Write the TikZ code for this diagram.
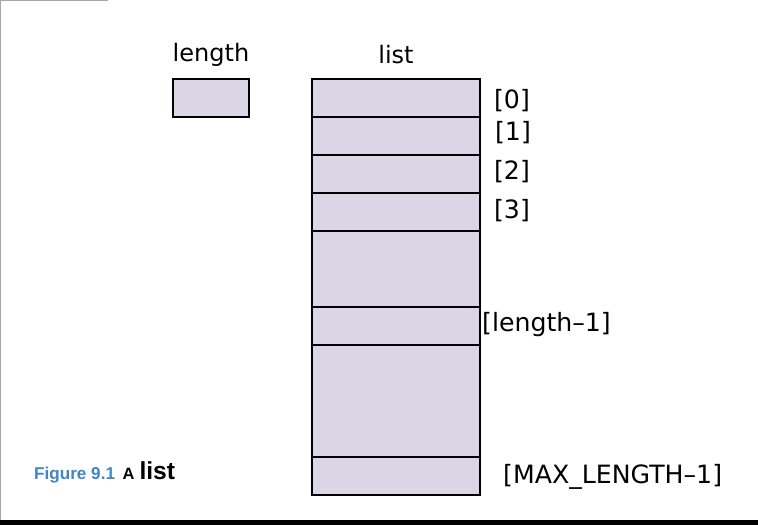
\documentclass[tikz,border=0pt]{standalone}
\usepackage{fontspec}
\setmainfont{Liberation Sans}
\newfontfamily\handfont{DejaVu Sans}
\usepackage{tikz}
\usetikzlibrary{positioning}
\definecolor{cellfill}{RGB}{218,214,229}
\definecolor{capblue}{RGB}{66,133,196}

\begin{document}
\begin{tikzpicture}[x=0.03cm, y=-0.03cm,
            cellnode/.style={rectangle, draw=black, fill=cellfill, line width=2.2pt, outer sep=0pt, minimum width=5.04cm, minimum height=1.14cm, inner sep=0pt},
            bignode/.style={cellnode, minimum height=2.28cm},
            hugenode/.style={cellnode, minimum height=3.36cm},
            idxnode/.style={font=\handfont\fontsize{21.5}{26}\selectfont, inner sep=0pt},
            headnode/.style={font=\handfont\fontsize{20.5}{26}\selectfont, inner sep=0pt},
        ]
        \useasboundingbox (0,0) rectangle (758,525);
        \fill[white] (0,0) rectangle (758,525);
        \fill[black!35] (0,0) rectangle (1.2,520);
        \fill[black!35] (0,0) rectangle (108,1);
        \fill[black] (0,520) rectangle (758,525);

        % headings
        \node[headnode] (lenhead) at (211,55) {length};
        \node[headnode] (listhead) at (396,55) {list};

        % the length variable
        \node[cellnode, minimum width=2.28cm, anchor=north west] (lenbox) at (173,79) {};

        % the list cells
        \node[cellnode, anchor=north west] (cell0) at (312,79) {};
        \node[cellnode] (cell1) [below=0pt of cell0] {};
        \node[cellnode] (cell2) [below=0pt of cell1] {};
        \node[cellnode] (cell3) [below=0pt of cell2] {};
        \node[bignode] (gapa) [below=0pt of cell3] {};
        \node[cellnode] (celllast) [below=0pt of gapa] {};
        \node[hugenode] (gapb) [below=0pt of celllast] {};
        \node[cellnode] (cellmax) [below=0pt of gapb] {};

        % indices
        \node[idxnode] (idx0) at (512,101) {[0]};
        \node[idxnode] (idx1) at (513,133) {[1]};
        \node[idxnode] (idx2) at (512,172) {[2]};
        \node[idxnode] (idx3) at (512,211) {[3]};
        \node[idxnode, anchor=west] (idxlast) at (482,325) {[length\textendash1]};
        \node[idxnode, anchor=west] (idxmax) at (503,477) {[MAX\_LENGTH\textendash1]};

        % caption
        \node[anchor=west, inner sep=0pt, text=capblue, font=\bfseries\fontsize{14.6}{17}\selectfont] (figcap) at (34,475) {Figure 9.1};
        \node[anchor=base west, inner sep=0pt, font=\bfseries\fontsize{14}{16}\selectfont] (capa) at ([xshift=6pt]figcap.base east) {A};
        \node[anchor=base west, inner sep=0pt, font=\bfseries\fontsize{21}{24}\selectfont] (caplist) at ([xshift=4pt]capa.base east) {list};
    \end{tikzpicture}
\end{document}
